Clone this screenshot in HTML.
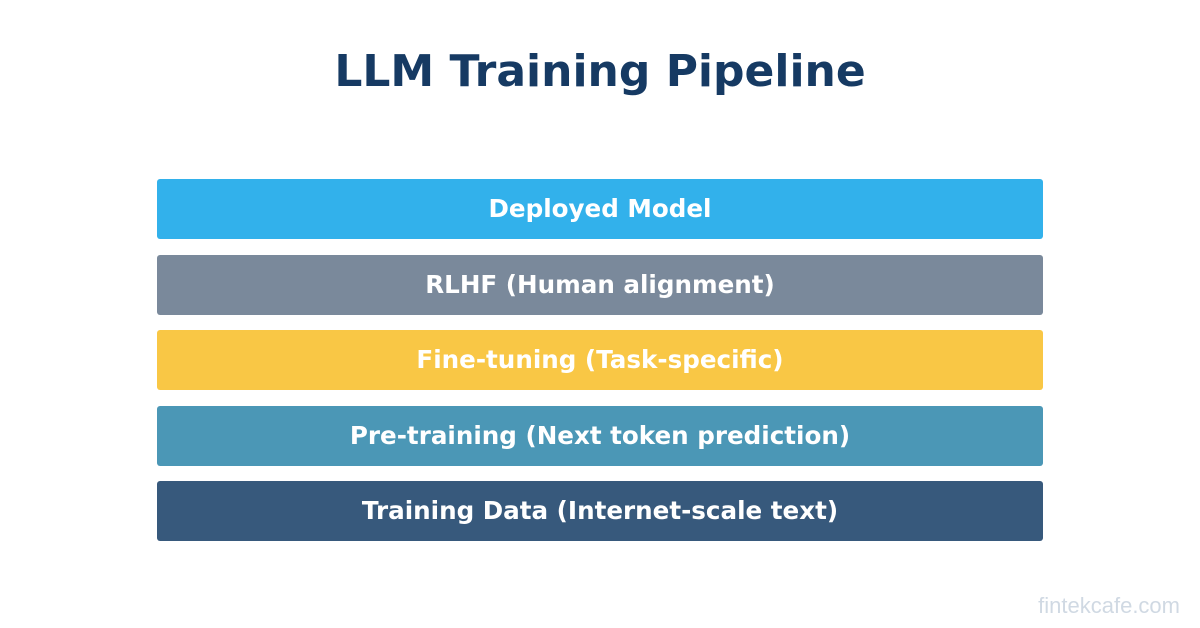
<!DOCTYPE html>
<html><head><meta charset="utf-8"><style>
body{margin:0;width:1200px;height:628px;background:#fff;position:relative;overflow:hidden;font-family:"DejaVu Sans",sans-serif}
h1{position:absolute;top:44px;left:0;width:1200px;margin:0;text-align:center;font-size:44px;font-weight:bold;color:#163a63;line-height:56px}
.b{position:absolute;left:157px;width:886px;height:60px;border-radius:3px;color:#fff;font-weight:bold;font-size:24.6px;text-align:center;line-height:60px}
.w{position:absolute;right:20px;top:593px;font-family:"Liberation Sans",sans-serif;font-size:22px;color:#d0d9e3}
</style></head><body>
<h1>LLM Training Pipeline</h1>
<div class="b" style="top:179px;background:#32b1eb">Deployed Model</div>
<div class="b" style="top:254.5px;background:#7a899b">RLHF (Human alignment)</div>
<div class="b" style="top:330px;background:#f9c745">Fine-tuning (Task-specific)</div>
<div class="b" style="top:405.5px;background:#4b97b6">Pre-training (Next token prediction)</div>
<div class="b" style="top:481px;background:#37597c">Training Data (Internet-scale text)</div>
<div class="w">fintekcafe.com</div>
</body></html>
